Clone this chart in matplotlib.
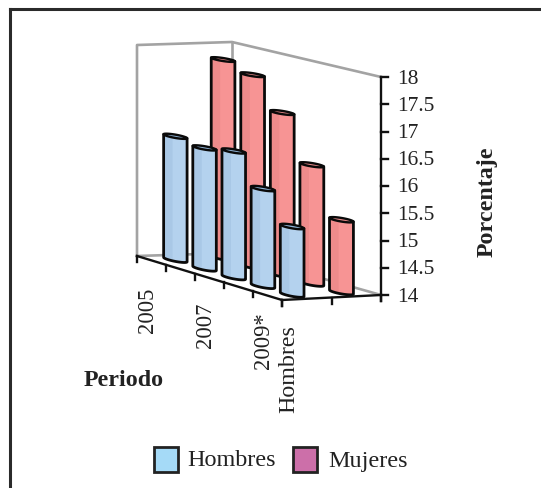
import matplotlib
matplotlib.use('Agg')
import matplotlib.pyplot as plt
from matplotlib.patches import Polygon, Rectangle
import numpy as np

plt.rcParams['font.family'] = ['Liberation Serif', 'DejaVu Serif']

# datos
periodos = ['2005', '2006', '2007', '2008', '2009*']
etiquetas_periodo = ['2005', '', '2007', '', '2009*']
series = ['Hombres', 'Mujeres']
hombres = [16.33, 16.26, 16.35, 15.8, 15.25]
mujeres = [17.75, 17.6, 17.03, 16.2, 15.33]
ticks_y = [14, 14.5, 15, 15.5, 16, 16.5, 17, 17.5, 18]

W, H = 541, 488
fig = plt.figure(figsize=(W / 100, H / 100), dpi=100)
ax = fig.add_axes([0, 0, 1, 1])
ax.set_xlim(0, W)
ax.set_ylim(H, 0)
ax.axis('off')

# esquinas del suelo en pixeles: (u, v) -> pantalla
P00 = np.array([137, 256.0])
P10 = np.array([282, 300.0])
P11 = np.array([381, 295.0])
P01 = np.array([232, 253.0])
# pixeles por unidad de valor en cada esquina
E00, E10, E11, E01 = 52.75, 54.5, 54.5, 52.75


def proy(u, v, val=14.0):
    base = (1-u)*(1-v)*P00 + u*(1-v)*P10 + u*v*P11 + (1-u)*v*P01
    esc = (1-u)*(1-v)*E00 + u*(1-v)*E10 + u*v*E11 + (1-u)*v*E01
    return base[0], base[1] - (val - 14) * esc


# paredes
gris = '#a3a3a3'
pared = [proy(0, 0), proy(0, 0, 18), proy(0, 1, 18), proy(1, 1, 18)]
ax.plot(*zip(*pared), color=gris, lw=1.9, zorder=1)
ax.plot(*zip(proy(0, 1), proy(0, 1, 18)), color=gris, lw=1.9, zorder=1)
ax.plot(*zip(proy(0, 0), proy(0, 1), proy(1, 1)), color=gris, lw=1.9, zorder=1)


def barra(i, s, val, claro, oscuro, tapa):
    uc, vc = (i + .5) / len(periodos), (s + .5) / len(series)
    t = np.linspace(0, 2*np.pi, 73)
    us = uc + 0.066*np.cos(t)
    vs = vc + 0.07*np.sin(t)
    abajo = np.array([proy(a, b) for a, b in zip(us, vs)])
    arriba = np.array([proy(a, b, val) for a, b in zip(us, vs)])
    il, ir = abajo[:, 0].argmin(), abajo[:, 0].argmax()
    # contorno inferior: parte de la elipse con y mayor
    orden = np.argsort(abajo[:-1, 0])
    frente = [p for p in abajo[:-1][orden] if p[1] >= np.interp(p[0], [abajo[il, 0], abajo[ir, 0]], [abajo[il, 1], abajo[ir, 1]])]
    cuerpo = [arriba[il]] + frente + [arriba[ir]]
    z = 3 - s + i*.01
    ax.add_patch(Polygon(cuerpo, closed=True, fc=claro, ec='none', zorder=z))
    # franja oscura a la izquierda
    x0, x1 = abajo[il, 0], abajo[ir, 0]
    xf = x0 + (x1 - x0)*.38
    franja = [p for p in cuerpo if p[0] <= xf]
    ytop = np.interp(xf, [x0, x1], [arriba[il, 1], arriba[ir, 1]])
    ybot = np.interp(xf, [x0, x1], [abajo[il, 1], abajo[ir, 1]]) + 2
    ax.add_patch(Polygon(franja + [(xf, ybot), (xf, ytop)], closed=True, fc=oscuro, ec='none', zorder=z))
    ax.add_patch(Polygon(cuerpo, closed=True, fc='none', ec='#0a0a0a', lw=2.0, joinstyle='round', zorder=z))
    ax.add_patch(Polygon(arriba, closed=True, fc=tapa, ec='#0a0a0a', lw=1.7, zorder=z))


for i, v in enumerate(mujeres):
    barra(i, 1, v, '#f79494', '#ee8b8b', '#e98a8a')
for i, v in enumerate(hombres):
    barra(i, 0, v, '#b4d2ee', '#a9c8e6', '#8fb4d8')

# ejes negros
negro = '#111111'
tinta = '#222222'
xe, ye = proy(1, 1)
ax.plot([xe, xe], [ye + 6, proy(1, 1, 18)[1]], color=negro, lw=1.7, zorder=6)
for t in ticks_y:
    x, y = proy(1, 1, t)
    ax.plot([x, x + 7], [y, y], color=negro, lw=1.7, zorder=6)
    ax.text(x + 16, y + 2, f'{t:g}', fontsize=15.5, ha='left', va='center', color=tinta)

ax.plot(*zip(proy(0, 0), proy(1, 0)), color=negro, lw=1.7, zorder=6)
ax.plot(*zip(proy(1, 0), proy(1, 1)), color=negro, lw=1.7, zorder=6)
for i in range(len(periodos) + 1):
    x, y = proy(i / len(periodos), 0)
    ax.plot([x, x], [y, y + 6], color=negro, lw=1.7, zorder=6)
desp_periodo = [27, 0, 25, 0, 17]
for i, et in enumerate(etiquetas_periodo):
    x, y = proy((i + .5) / len(periodos), 0)
    ax.text(x - 3.5, y + desp_periodo[i], et, rotation=90, fontsize=16.3, ha='center', va='top', color=tinta)
for j in range(len(series) + 1):
    x, y = proy(1, j / len(series))
    ax.plot([x, x], [y, y + 6], color=negro, lw=1.7, zorder=6)
ax.text(289, 325, series[0], rotation=90, fontsize=17.3, ha='center', va='top', color=tinta)

# titulos de ejes
ax.text(84, 380, 'Periodo', fontsize=17.3, fontweight='bold', ha='left', va='center', color=tinta)
ax.text(487, 202, 'Porcentaje', fontsize=17.3, fontweight='bold', rotation=90, ha='center', va='center', color=tinta)

# leyenda
ax.add_patch(Rectangle((154, 447), 24, 25, fc='#a5daf7', ec=tinta, lw=2))
ax.text(187, 461, series[0], fontsize=17.4, ha='left', va='center', color=tinta)
ax.add_patch(Rectangle((293, 447), 24, 25, fc='#cc6fa9', ec=tinta, lw=2))
ax.text(328, 461, series[1], fontsize=17.4, ha='left', va='center', color=tinta)

# marco exterior (sin lado derecho ni inferior)
ax.plot([10, 10], [H, 9], color='#2a2a2a', lw=2.2, zorder=7)
ax.plot([10, W], [9, 9], color='#2a2a2a', lw=2.2, zorder=7)

fig.savefig('out.png', dpi=100)
